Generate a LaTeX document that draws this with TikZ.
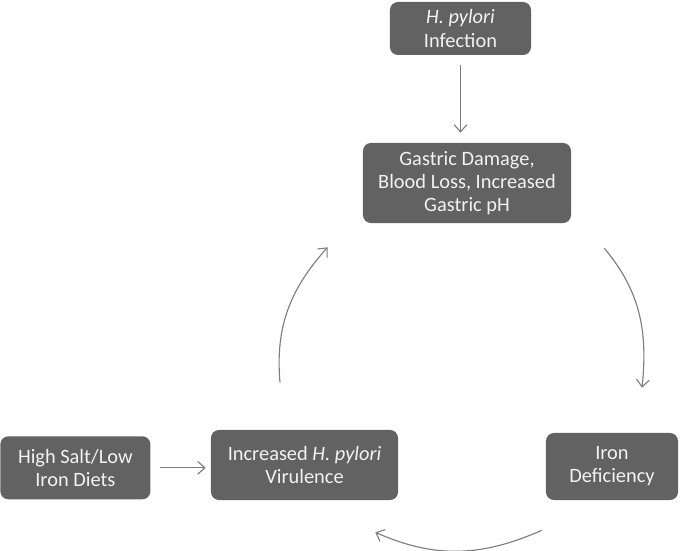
\documentclass[tikz,border=0pt]{standalone}
\usepackage{fontspec}
\setmainfont{Carlito}
\usetikzlibrary{arrows.meta,positioning,calc}
\definecolor{boxgray}{RGB}{98,98,98}
\definecolor{boxtext}{RGB}{242,242,242}
\definecolor{linkgray}{RGB}{125,125,125}
\tikzset{
  stage/.style={rectangle, rounded corners=0.2cm, fill=boxgray, text=boxtext,
                align=center, inner sep=0pt, font=\fontsize{14.5}{16.5}\selectfont},
  link/.style ={-{Straight Barb[length=1.8mm,width=3.2mm]}, line width=0.8pt, draw=linkgray},
}

\begin{document}
\begin{tikzpicture}[x=0.025cm, y=0.025cm]
\useasboundingbox (0,0) rectangle (680,551);
% cycle
\node[stage, minimum width=5.2cm, minimum height=2cm] (gd) at (467,368) {Gastric Damage,\\Blood Loss, Increased\\Gastric pH};
\node[stage, minimum width=3.3cm, minimum height=1.675cm] (id) at (612,84.5) {Iron\\Deficiency};
\node[stage, minimum width=4.675cm, minimum height=1.75cm] (vir) at (304.5,86) {Increased \textit{H. pylori}\\Virulence};
% inputs
\node[stage, minimum width=3.525cm, minimum height=1.325cm] (inf) at (460.5,522.5) {\textit{H. pylori}\\Infection};
\node[stage, minimum width=3.75cm, minimum height=1.575cm, left=1.5cm of vir, yshift=-2pt] (hs) {High Salt/Low\\Iron Diets};
\draw[link, shorten <=0.25cm, shorten >=0.25cm] (inf.south) -- (inf.south |- gd.north);
\draw[link, shorten <=0.225cm, shorten >=0.125cm] (hs.east) -- (hs.east -| vir.west);
\draw[link] ($(gd.south east)+(33,-25)$) to[out=-50, in=84] ($(id.north)+(30,45)$);
\draw[link] ($(id.south west)+(-4,-30)$) to[out=-156, in=-24] ($(vir.south east)+(-23,-32)$);
\draw[link] ($(vir.north)+(-24.5,47)$) to[out=95, in=-132] ($(gd.south west)+(-35,-24)$);
\end{tikzpicture}
\end{document}
